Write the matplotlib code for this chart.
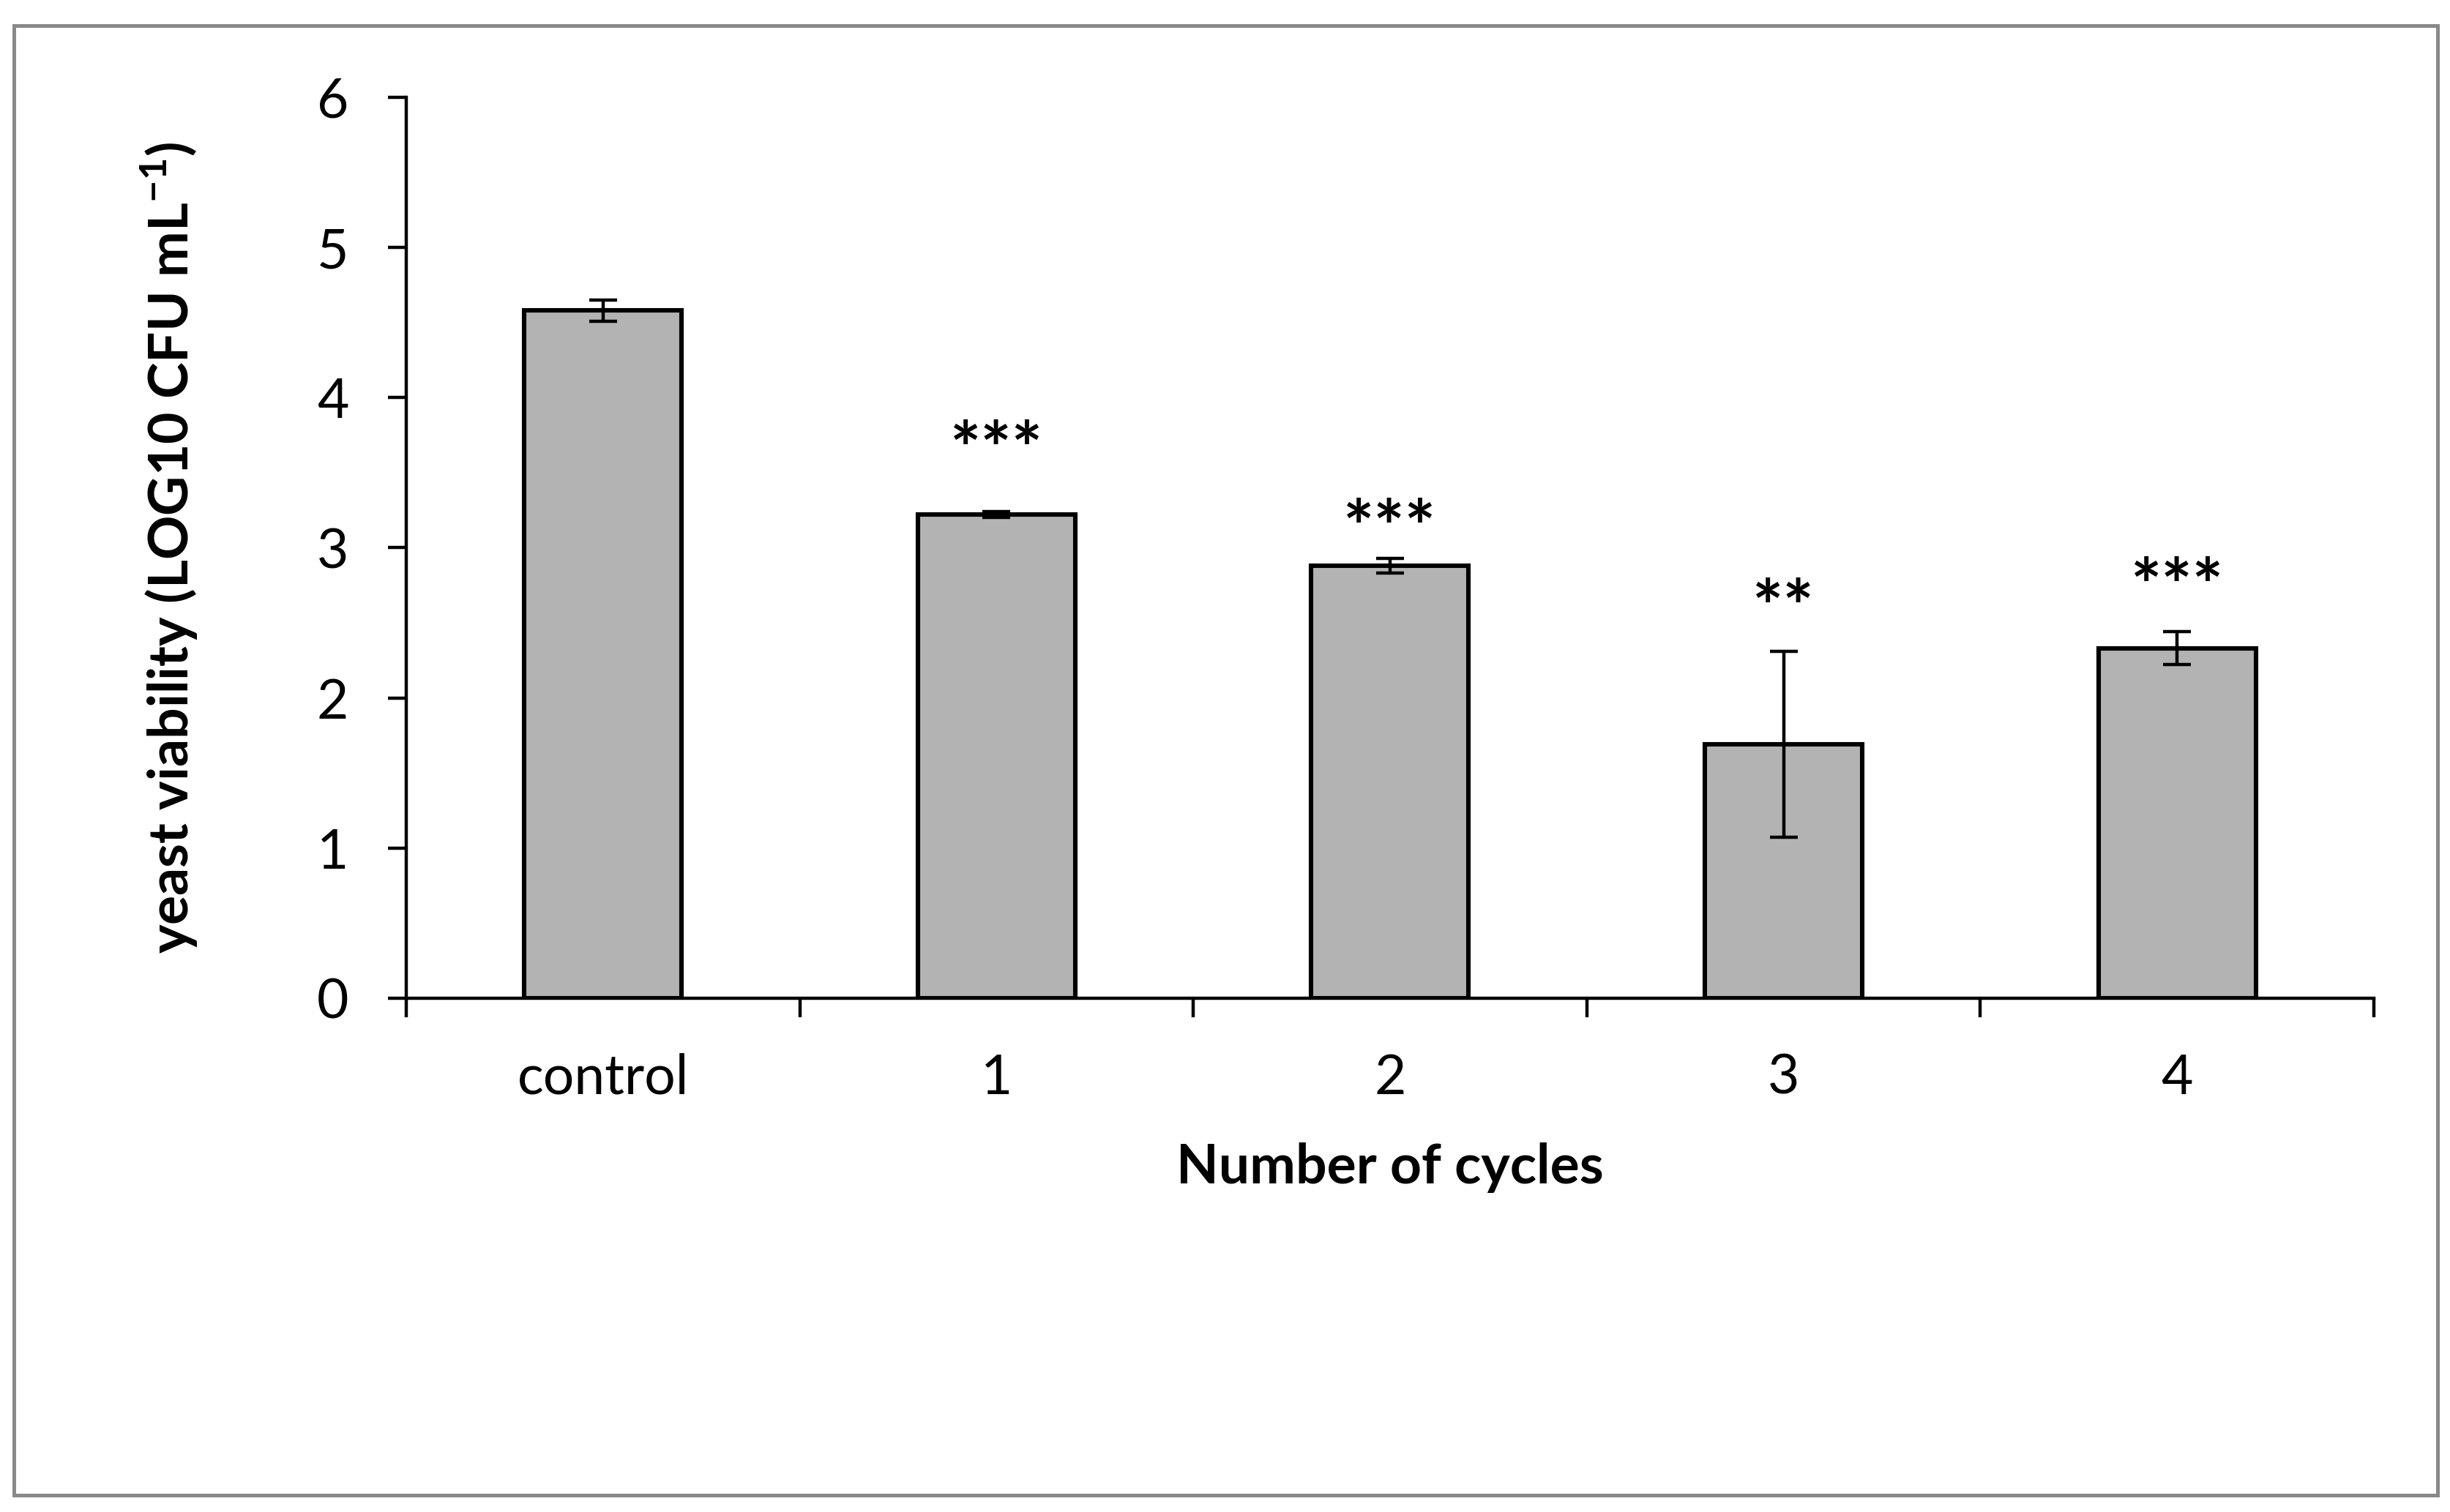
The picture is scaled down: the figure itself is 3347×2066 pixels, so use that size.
import matplotlib
matplotlib.use("Agg")
import matplotlib.pyplot as plt
from matplotlib.patches import Rectangle

plt.rcParams['font.family'] = ['Lato', 'DejaVu Sans']
plt.rcParams['mathtext.fontset'] = 'custom'
plt.rcParams['mathtext.rm'] = 'Lato'
plt.rcParams['mathtext.bf'] = 'Lato:bold'

# data
categories = ['control', '1', '2', '3', '4']
viability = [4.58, 3.22, 2.88, 1.69, 2.33]
sd = [0.07, 0.02, 0.05, 0.62, 0.11]
stars = ['', '***', '***', '**', '***']
star_height = [0, 3.77, 3.25, 2.72, 2.86]

FS = 27
LW = 1.6

fig = plt.figure(figsize=(16.74, 10.33), dpi=200)
ax = fig.add_axes([0.1658, 0.3398, 0.8028, 0.5959])

x = list(range(len(categories)))
ax.bar(x, viability, width=0.4, color='#b3b3b3', edgecolor='black',
       linewidth=2.2, zorder=2)
ax.errorbar(x, viability, yerr=sd, fmt='none', ecolor='black',
            elinewidth=LW, capsize=7, capthick=LW, zorder=3)

# significance marks (asterisk glyph sits high, so nudge the text down)
for xi, s, h in zip(x, stars, star_height):
    if s:
        ax.annotate(s, (xi, h), xytext=(0, -11), textcoords='offset points',
                    ha='center', va='center', fontsize=36, fontweight='bold')

ax.set_xlim(-0.5, len(categories) - 0.5)
ax.set_ylim(0, 6)
ax.set_yticks(range(7))

# ticks sit between categories, labels at the bar centres
ax.set_xticks([i - 0.5 for i in range(len(categories) + 1)])
ax.set_xticklabels([])
ax.set_xticks(x, categories, minor=True)
ax.tick_params(axis='x', which='major', length=9.5, width=LW, direction='out')
ax.tick_params(axis='x', which='minor', length=0, pad=27, labelsize=FS)
ax.tick_params(axis='y', length=9, width=LW, direction='out', pad=19.4,
               labelsize=FS)

for side in ('top', 'right'):
    ax.spines[side].set_visible(False)
for side in ('left', 'bottom'):
    ax.spines[side].set_linewidth(LW)

ax.set_xlabel('Number of cycles', fontsize=FS, fontweight='bold', labelpad=19)
ax.set_ylabel(r'yeast viability (LOG10 CFU mL$^{\mathbf{-1}}$)', fontsize=FS,
              fontweight='bold')
ax.yaxis.set_label_coords(-0.105, 0.5)

# grey frame around the whole chart
fig.patches.append(Rectangle((0.0056, 0.0111), 0.9890, 0.9720,
                             transform=fig.transFigure, fill=False,
                             edgecolor='#898989', linewidth=1.8))

fig.savefig('out.png', dpi=200)
